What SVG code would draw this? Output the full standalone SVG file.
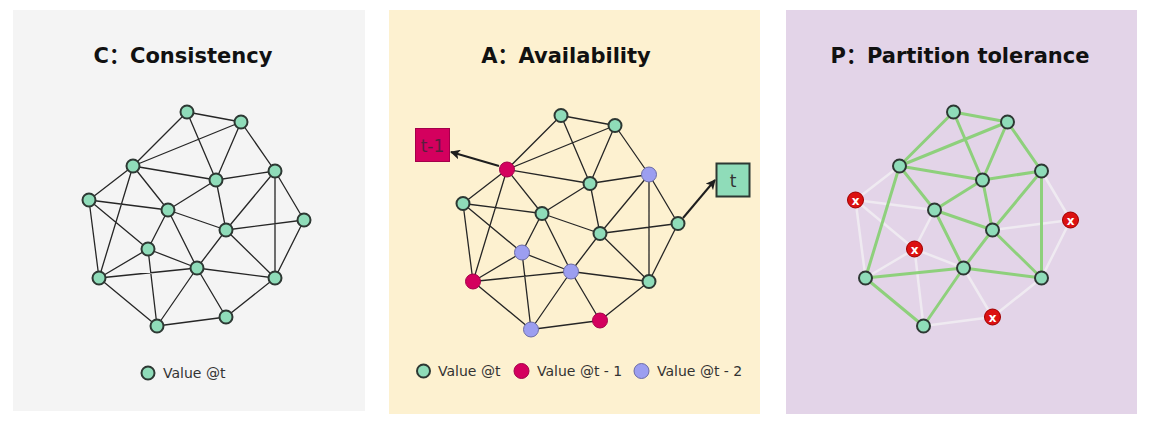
<svg xmlns="http://www.w3.org/2000/svg" width="1152" height="428" viewBox="0 0 1152 428">
<defs>
<style>
.title{font-family:"DejaVu Sans","Noto Sans CJK SC",sans-serif;font-weight:bold;font-size:21px;fill:#111;text-anchor:middle}
.leg{font-family:"DejaVu Sans","Liberation Sans",sans-serif;font-size:14px;fill:#333}
.e{stroke:#262626;stroke-width:1.3;fill:none}
.eg{stroke:#8ed07c;stroke-width:3;fill:none;stroke-linecap:round}
.el{stroke:#efeaf1;stroke-width:2.5;fill:none;stroke-linecap:round}
.ng{fill:#8fdcb9;stroke:#2d3833;stroke-width:2}
.nr{fill:#d4005e;stroke:#a3004a;stroke-width:1}
.np{fill:#9c9ef0;stroke:#6b6ca6;stroke-width:1}
.nx{fill:#dc1111;stroke:#9e0000;stroke-width:1}
.xt{font-family:"DejaVu Sans",sans-serif;font-size:12px;font-weight:bold;fill:#fff;text-anchor:middle}
.bt{font-family:"DejaVu Sans","Liberation Sans",sans-serif;font-size:17px;fill:#333;text-anchor:middle}
.arr{stroke:#1e1e1e;stroke-width:2;fill:none}
</style>
<marker id="ah" viewBox="0 0 10 10" refX="9" refY="5" markerWidth="5" markerHeight="5" orient="auto" markerUnits="strokeWidth">
<path d="M0,0 L10,5 L0,10 L2.5,5 z" fill="#1e1e1e"/>
</marker>
</defs>
<rect width="1152" height="428" fill="#ffffff"/>

<!-- Panel C -->
<g id="panel-c">
<rect x="13" y="10" width="352" height="401" fill="#f4f4f4"/>
<text class="title" x="183" y="63">C：Consistency</text>
<g id="c-connectors">
<path class="e" d="M187,112L241,122 M187,112L133,166 M187,112L216,180 M241,122L133,166 M241,122L216,180 M241,122L275,171 M133,166L216,180 M133,166L89,200 M133,166L168,210 M133,166L99,278 M216,180L275,171 M216,180L168,210 M216,180L226,230 M275,171L226,230 M275,171L304,220 M275,171L275,278 M89,200L168,210 M89,200L148,249 M89,200L99,278 M168,210L226,230 M168,210L148,249 M168,210L197,268 M304,220L226,230 M304,220L275,278 M226,230L197,268 M226,230L275,278 M148,249L99,278 M148,249L197,268 M148,249L157,326 M197,268L99,278 M197,268L275,278 M197,268L157,326 M197,268L226,317 M157,326L99,278 M157,326L226,317 M226,317L275,278"/>
</g>
<g id="c-nodes">
<g id="c-A"><circle class="ng" cx="187" cy="112" r="6.5"/></g>
<g id="c-B"><circle class="ng" cx="241" cy="122" r="6.5"/></g>
<g id="c-C"><circle class="ng" cx="133" cy="166" r="6.5"/></g>
<g id="c-D"><circle class="ng" cx="216" cy="180" r="6.5"/></g>
<g id="c-E"><circle class="ng" cx="275" cy="171" r="6.5"/></g>
<g id="c-F"><circle class="ng" cx="89" cy="200" r="6.5"/></g>
<g id="c-G"><circle class="ng" cx="168" cy="210" r="6.5"/></g>
<g id="c-H"><circle class="ng" cx="304" cy="220" r="6.5"/></g>
<g id="c-I"><circle class="ng" cx="226" cy="230" r="6.5"/></g>
<g id="c-J"><circle class="ng" cx="148" cy="249" r="6.5"/></g>
<g id="c-K"><circle class="ng" cx="197" cy="268" r="6.5"/></g>
<g id="c-L"><circle class="ng" cx="99" cy="278" r="6.5"/></g>
<g id="c-M"><circle class="ng" cx="275" cy="278" r="6.5"/></g>
<g id="c-N"><circle class="ng" cx="157" cy="326" r="6.5"/></g>
<g id="c-O"><circle class="ng" cx="226" cy="317" r="6.5"/></g>
</g>
<g id="c-legend">
<circle class="ng" cx="148" cy="373" r="6.5"/>
<text class="leg" x="163" y="378">Value @t</text>
</g>
</g>

<!-- Panel A -->
<g id="panel-a">
<rect x="389" y="10" width="371" height="404" fill="#fdf1d0"/>
<text class="title" x="566" y="63">A：Availability</text>
<g transform="translate(374,3.5)">
<g id="a-connectors">
<path class="e" d="M187,112L241,122 M187,112L133,166 M187,112L216,180 M241,122L133,166 M241,122L216,180 M241,122L275,171 M133,166L216,180 M133,166L89,200 M133,166L168,210 M133,166L99,278 M216,180L275,171 M216,180L168,210 M216,180L226,230 M275,171L226,230 M275,171L304,220 M275,171L275,278 M89,200L168,210 M89,200L148,249 M89,200L99,278 M168,210L226,230 M168,210L148,249 M168,210L197,268 M304,220L226,230 M304,220L275,278 M226,230L197,268 M226,230L275,278 M148,249L99,278 M148,249L197,268 M148,249L157,326 M197,268L99,278 M197,268L275,278 M197,268L157,326 M197,268L226,317 M157,326L99,278 M157,326L226,317 M226,317L275,278"/>
</g>
<g id="a-nodes">
<g id="a-A"><circle class="ng" cx="187" cy="112" r="6.5"/></g>
<g id="a-B"><circle class="ng" cx="241" cy="122" r="6.5"/></g>
<g id="a-C"><circle class="nr" cx="133" cy="166" r="7.5"/></g>
<g id="a-D"><circle class="ng" cx="216" cy="180" r="6.5"/></g>
<g id="a-E"><circle class="np" cx="275" cy="171" r="7.5"/></g>
<g id="a-F"><circle class="ng" cx="89" cy="200" r="6.5"/></g>
<g id="a-G"><circle class="ng" cx="168" cy="210" r="6.5"/></g>
<g id="a-H"><circle class="ng" cx="304" cy="220" r="6.5"/></g>
<g id="a-I"><circle class="ng" cx="226" cy="230" r="6.5"/></g>
<g id="a-J"><circle class="np" cx="148" cy="249" r="7.5"/></g>
<g id="a-K"><circle class="np" cx="197" cy="268" r="7.5"/></g>
<g id="a-L"><circle class="nr" cx="99" cy="278" r="7.5"/></g>
<g id="a-M"><circle class="ng" cx="275" cy="278" r="6.5"/></g>
<g id="a-N"><circle class="np" cx="157" cy="326" r="7.5"/></g>
<g id="a-O"><circle class="nr" cx="226" cy="317" r="7.5"/></g>
</g>
</g>
<g id="a-arrows">
<line class="arr" x1="499" y1="166" x2="451" y2="152" marker-end="url(#ah)"/>
<line class="arr" x1="683" y1="218" x2="715" y2="180" marker-end="url(#ah)"/>
</g>
<g id="a-box-t1">
<rect x="415.5" y="128.5" width="34" height="33" fill="#d4005e" stroke="#a3004a" stroke-width="1"/>
<text class="bt" x="432.5" y="151.5" style="fill:#5a1e3e">t-1</text>
</g>
<g id="a-box-t">
<rect x="716.5" y="163.5" width="33" height="33" fill="#8fdcb9" stroke="#2d3833" stroke-width="2"/>
<text class="bt" x="733" y="186.5">t</text>
</g>
<g id="a-legend">
<circle class="ng" cx="423.5" cy="371" r="6.5"/>
<text class="leg" x="438" y="376">Value @t</text>
<circle class="nr" cx="521.5" cy="371" r="7.5"/>
<text class="leg" x="537" y="376">Value @t - 1</text>
<circle class="np" cx="641.5" cy="371" r="7.5"/>
<text class="leg" x="657" y="376">Value @t - 2</text>
</g>
</g>

<!-- Panel P -->
<g id="panel-p">
<rect x="786" y="10" width="351" height="404" fill="#e3d4e8"/>
<text class="title" x="960" y="63">P：Partition tolerance</text>
<g transform="translate(766.5,0)">
<g id="p-connectors">
<path class="el" d="M133,166L89,200 M89,200L168,210 M89,200L148,249 M89,200L99,278 M275,171L304,220 M304,220L226,230 M304,220L275,278 M168,210L148,249 M148,249L99,278 M148,249L197,268 M148,249L157,326 M197,268L226,317 M157,326L226,317 M226,317L275,278"/>
<path class="eg" d="M187,112L241,122 M187,112L133,166 M187,112L216,180 M241,122L133,166 M241,122L216,180 M241,122L275,171 M133,166L216,180 M133,166L168,210 M133,166L99,278 M216,180L275,171 M216,180L168,210 M216,180L226,230 M275,171L226,230 M275,171L275,278 M168,210L226,230 M168,210L197,268 M226,230L197,268 M226,230L275,278 M197,268L99,278 M197,268L275,278 M197,268L157,326 M157,326L99,278"/>
</g>
<g id="p-nodes">
<g id="p-A"><circle class="ng" cx="187" cy="112" r="6.5"/></g>
<g id="p-B"><circle class="ng" cx="241" cy="122" r="6.5"/></g>
<g id="p-C"><circle class="ng" cx="133" cy="166" r="6.5"/></g>
<g id="p-D"><circle class="ng" cx="216" cy="180" r="6.5"/></g>
<g id="p-E"><circle class="ng" cx="275" cy="171" r="6.5"/></g>
<g id="p-F"><circle class="nx" cx="89" cy="200" r="8"/><text class="xt" x="89" y="204.5">x</text></g>
<g id="p-G"><circle class="ng" cx="168" cy="210" r="6.5"/></g>
<g id="p-H"><circle class="nx" cx="304" cy="220" r="8"/><text class="xt" x="304" y="224.5">x</text></g>
<g id="p-I"><circle class="ng" cx="226" cy="230" r="6.5"/></g>
<g id="p-J"><circle class="nx" cx="148" cy="249" r="8"/><text class="xt" x="148" y="253.5">x</text></g>
<g id="p-K"><circle class="ng" cx="197" cy="268" r="6.5"/></g>
<g id="p-L"><circle class="ng" cx="99" cy="278" r="6.5"/></g>
<g id="p-M"><circle class="ng" cx="275" cy="278" r="6.5"/></g>
<g id="p-N"><circle class="ng" cx="157" cy="326" r="6.5"/></g>
<g id="p-O"><circle class="nx" cx="226" cy="317" r="8"/><text class="xt" x="226" y="321.5">x</text></g>
</g>
</g>
</g>
</svg>
